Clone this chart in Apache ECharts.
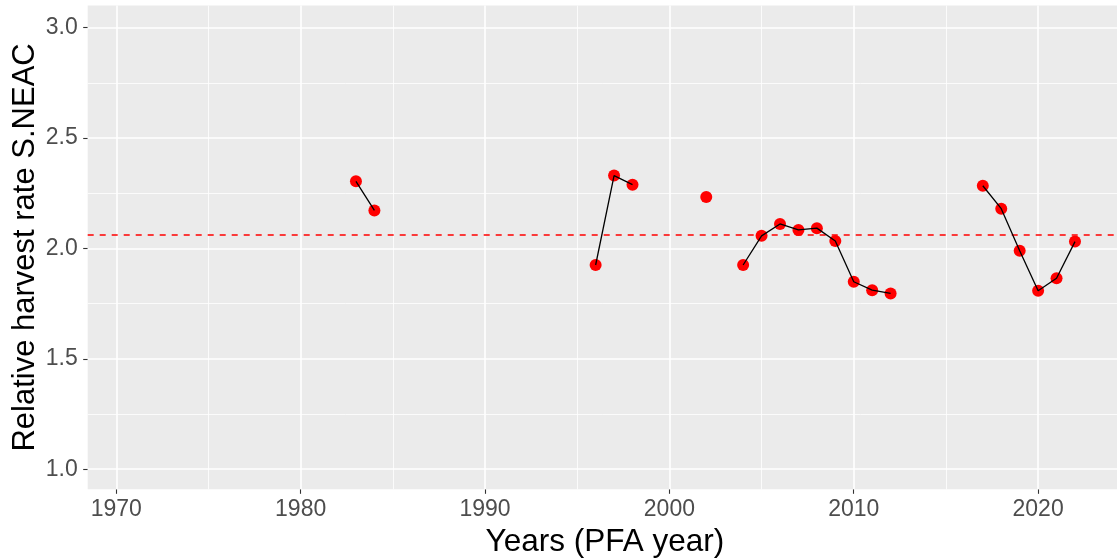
<!DOCTYPE html>
<html>
<head>
<meta charset="utf-8">
<script src="https://cdn.jsdelivr.net/npm/echarts@6/dist/echarts.min.js"></script>
<style>html,body{margin:0;padding:0;background:#fff}#c{width:1117px;height:558px}</style>
</head>
<body>
<div id="c"></div>
<script>
const years = [1983,1984,1985,1986,1987,1988,1989,1990,1991,1992,1993,1994,1995,1996,1997,1998,1999,2000,2001,2002,2003,2004,2005,2006,2007,2008,2009,2010,2011,2012,2013,2014,2015,2016,2017,2018,2019,2020,2021,2022];
const harvestRate = [2.304,2.172,null,null,null,null,null,null,null,null,null,null,null,1.925,2.330,2.289,null,null,null,2.233,null,1.925,2.057,2.111,2.084,2.092,2.034,1.849,1.811,1.796,null,null,null,null,2.284,2.180,1.990,1.808,1.865,2.031];
const meanRate = 2.056;
const xTicks = [1970,1980,1990,2000,2010,2020];
const xMinorGrid = [1975,1985,1995,2005,2015];
const yTicks = [1.0,1.5,2.0,2.5,3.0];
const yMinorGrid = [1.25,1.75,2.25,2.75];
const xRange = [1968.45, 2024.55];
const yRange = [0.909, 3.1];

const pairs = years.map((y,i)=>[y, harvestRate[i]==null ? '-' : harvestRate[i]]);
const pts = years.map((y,i)=>[y, harvestRate[i]]).filter(p=>p[1]!=null);

const gridData = []
  .concat(xTicks.map(v=>({xAxis:v, lineStyle:{color:'#fff', width:1.6, type:'solid'}})))
  .concat(xMinorGrid.map(v=>({xAxis:v, lineStyle:{color:'#fff', width:0.8, type:'solid'}})))
  .concat(yTicks.map(v=>({yAxis:v, lineStyle:{color:'#fff', width:1.6, type:'solid'}})))
  .concat(yMinorGrid.map(v=>({yAxis:v, lineStyle:{color:'#fff', width:0.8, type:'solid'}})));

const chart = echarts.init(document.getElementById('c'), null, {renderer:'canvas'});
const font = 'Liberation Sans, Arial, sans-serif';
chart.setOption({
  animation:false,
  backgroundColor:'#ffffff',
  grid:{left:87.7, top:5.6, right:-5, bottom:68.7, show:true, backgroundColor:'#EBEBEB', borderWidth:0,
        containLabel:false, outerBoundsMode:'none'},
  xAxis:{
    type:'value', min:xRange[0], max:xRange[1],
    name:'Years (PFA year)', nameLocation:'middle', nameGap:31,
    nameTextStyle:{fontSize:31.5, color:'#000', fontFamily:font},
    axisLine:{show:false},
    axisTick:{show:true, customValues:xTicks, length:4.5, lineStyle:{color:'#333', width:1.1}},
    axisLabel:{customValues:xTicks, fontSize:23, color:'#4D4D4D', fontFamily:font, margin:9, formatter:v=>String(v)},
    splitLine:{show:false}
  },
  yAxis:{
    type:'value', min:yRange[0], max:yRange[1],
    name:'Relative harvest rate S.NEAC', nameLocation:'middle', nameGap:47, nameMoveOverlap:false,
    nameTextStyle:{fontSize:31, color:'#000', fontFamily:font},
    axisLine:{show:false},
    axisTick:{show:true, customValues:yTicks, length:4.5, lineStyle:{color:'#333', width:1.1}},
    axisLabel:{customValues:yTicks, fontSize:23, color:'#4D4D4D', fontFamily:font, margin:10, formatter:v=>v.toFixed(1)},
    splitLine:{show:false}
  },
  series:[
    {type:'line', data:[], z:1, silent:true,
     markLine:{z:1, silent:true, symbol:['none','none'], label:{show:false}, animation:false, data:gridData}},
    {type:'scatter', data:pts, symbol:'circle', symbolSize:12, itemStyle:{color:'#FF0000', opacity:1}, z:3, silent:true},
    {type:'line', data:pairs, connectNulls:false, symbol:'none', lineStyle:{color:'#000', width:1.3}, z:4, silent:true,
     markLine:{z:2, silent:true, symbol:['none','none'], label:{show:false}, animation:false,
       data:[{yAxis:meanRate, lineStyle:{color:'#FF0000', width:1.5, type:[6,6]}}]}}
  ]
});
</script>
</body>
</html>
